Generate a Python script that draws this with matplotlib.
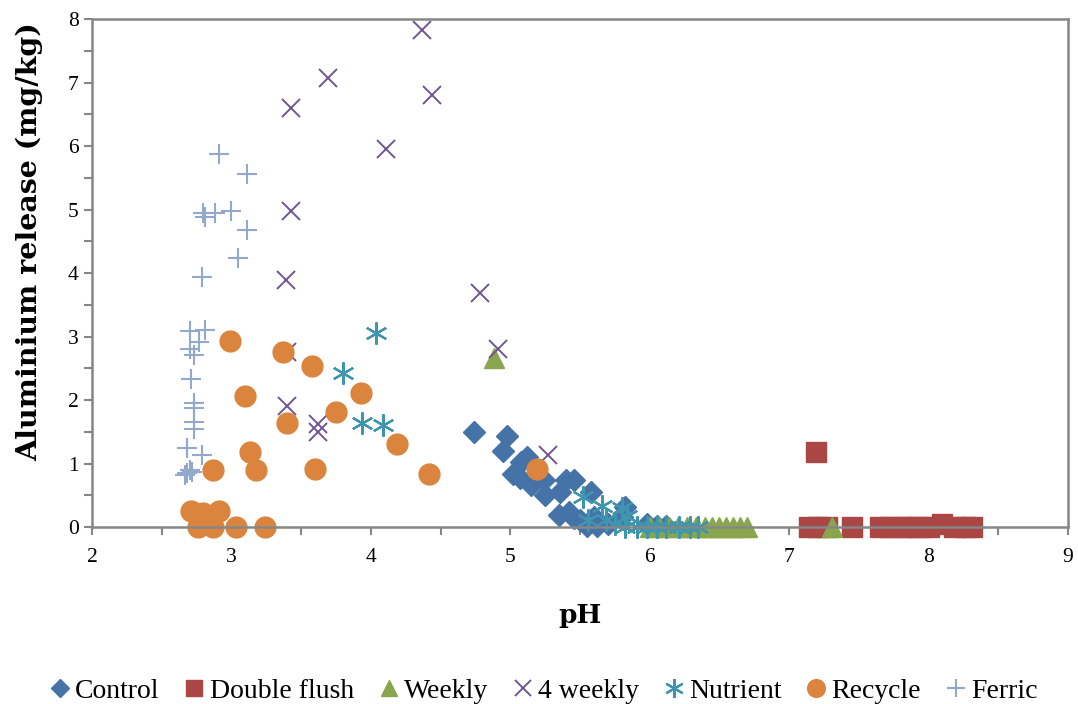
import matplotlib
matplotlib.use("Agg")
import matplotlib.pyplot as plt
from matplotlib.ticker import MultipleLocator

plt.rcParams['font.family'] = ['Liberation Serif', 'DejaVu Serif']

# series values (pH, Al release mg/kg)
control_ph = [4.74, 4.98, 4.95, 5.12, 5.08, 5.02, 5.07, 5.15, 5.25, 5.24, 5.40, 5.46,
              5.36, 5.58, 5.35, 5.42, 5.46, 5.50, 5.57, 5.60, 5.55, 5.62, 5.82, 5.80,
              5.70, 5.98, 6.05, 6.12]
control_al = [1.49, 1.43, 1.20, 1.10, 1.03, 0.83, 0.77, 0.66, 0.50, 0.74, 0.74, 0.74,
              0.55, 0.55, 0.19, 0.24, 0.14, 0.11, 0.08, 0.16, 0.02, 0.02, 0.32, 0.16,
              0.05, 0.05, 0.02, 0.02]

dflush_ph = [7.19, 7.14, 7.21, 7.27, 7.45, 7.65, 7.72, 7.80, 7.87, 7.93, 8.00, 8.10, 8.18, 8.26, 8.31]
dflush_al = [1.18, 0.0, 0.0, 0.0, 0.0, 0.0, 0.0, 0.0, 0.0, 0.0, 0.0, 0.05, 0.0, 0.0, 0.0]

weekly_ph = [4.88, 6.00, 6.07, 6.14, 6.20, 6.27, 6.33, 6.40, 6.45, 6.50, 6.55, 6.60, 6.65, 6.70, 7.31]
weekly_al = [2.66, 0.0, 0.0, 0.0, 0.0, 0.0, 0.0, 0.0, 0.0, 0.0, 0.0, 0.0, 0.0, 0.0, 0.0]

w4_ph = [4.37, 3.69, 4.44, 3.43, 4.11, 3.43, 3.39, 4.78, 4.91, 3.40, 3.40, 3.62, 3.62, 5.27]
w4_al = [7.83, 7.07, 6.80, 6.60, 5.95, 4.98, 3.89, 3.69, 2.80, 2.76, 1.91, 1.63, 1.50, 1.13]

nutrient_ph = [4.04, 3.80, 3.94, 4.09, 5.52, 5.66, 5.56, 5.69, 5.80, 5.75, 5.84,
               5.82, 5.91, 5.98, 6.05, 6.12, 6.21, 6.29, 6.35]
nutrient_al = [3.05, 2.43, 1.64, 1.60, 0.48, 0.33, 0.11, 0.11, 0.30, 0.05, 0.18,
               0.0, 0.0, 0.0, 0.0, 0.0, 0.0, 0.0, 0.0]

recycle_ph = [2.99, 3.37, 3.58, 3.10, 3.93, 3.75, 3.40, 4.19, 3.13, 3.18, 2.87, 3.60,
              4.42, 5.19, 2.71, 2.80, 2.91, 2.76, 2.87, 3.03, 3.24]
recycle_al = [2.93, 2.75, 2.54, 2.07, 2.11, 1.81, 1.64, 1.31, 1.18, 0.90, 0.89, 0.92,
              0.83, 0.91, 0.25, 0.22, 0.25, 0.0, 0.0, 0.0, 0.0]

ferric_ph = [2.91, 3.11, 2.80, 2.81, 2.88, 3.00, 3.11, 3.05, 2.79, 2.70, 2.81, 2.77,
             2.70, 2.73, 2.71, 2.73, 2.73, 2.73, 2.73, 2.68, 2.79, 2.70, 2.68, 2.67, 2.72]
ferric_al = [5.87, 5.56, 4.94, 4.88, 4.94, 4.97, 4.68, 4.24, 3.94, 3.08, 3.10, 2.92,
             2.81, 2.71, 2.33, 1.95, 1.87, 1.66, 1.55, 1.24, 1.13, 0.90, 0.85, 0.82, 0.87]

fig = plt.figure(figsize=(10.78, 7.04), dpi=100)
ax = fig.add_axes([0.0853, 0.2514, 0.9054, 0.7216])

kw = dict(linestyle='none', clip_on=False)
ax.plot(control_ph, control_al, marker='D', ms=11, color='#4572A7', mec='#4572A7', label='Control', **kw)
ax.plot(dflush_ph, dflush_al, marker='s', ms=14, color='#AA4643', label='Double flush', **kw)
ax.plot(weekly_ph, weekly_al, marker='^', ms=14, color='#89A54E', label='Weekly', **kw)
ax.plot(w4_ph, w4_al, marker='x', ms=13, mew=1.4, color='#6F5591', label='4 weekly', **kw)
ax.plot(nutrient_ph, nutrient_al, marker=(6, 2, 0), ms=16, mew=1.6, color='#3D96AE', label='Nutrient', **kw)
ax.plot(recycle_ph, recycle_al, marker='o', ms=15, color='#DB843D', label='Recycle', **kw)
ax.plot(ferric_ph, ferric_al, marker='+', ms=15, mew=1.5, color='#92A8CD', label='Ferric', **kw)

ax.set_xlim(2, 9)
ax.set_ylim(0, 8)
ax.xaxis.set_major_locator(MultipleLocator(1))
ax.xaxis.set_minor_locator(MultipleLocator(0.5))
ax.yaxis.set_major_locator(MultipleLocator(1))
ax.yaxis.set_minor_locator(MultipleLocator(0.5))
ax.tick_params(which='both', direction='out', color='#868686', width=1.5, length=6, labelsize=15.5)
ax.tick_params(axis='x', pad=9)
for s in ax.spines.values():
    s.set_color('#868686')
    s.set_linewidth(1.8)

lab = dict(fontweight='bold', family='DejaVu Serif')
ax.set_xlabel('pH', fontsize=19, **lab)
ax.xaxis.set_label_coords(0.5, -0.15)
ax.set_ylabel('Aluminium release (mg/kg)', fontsize=20.5, **lab)
ax.yaxis.set_label_coords(-0.05, 0.561)

fig.legend(loc='lower center', bbox_to_anchor=(0.502, -0.035), ncol=7, frameon=False,
           fontsize=20, handletextpad=0.0, columnspacing=0.7, markerscale=0.85,
           handlelength=1.1)

fig.savefig('out.png', dpi=100)
